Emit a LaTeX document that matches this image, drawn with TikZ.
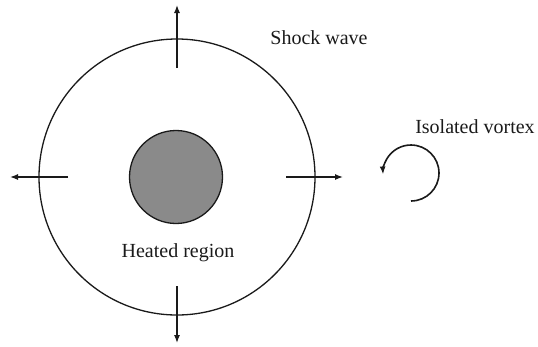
\documentclass[tikz,border=0pt]{standalone}
\usepackage{fontspec}
\setmainfont{Liberation Serif}
\usepackage{xcolor}
\usetikzlibrary{arrows.meta,calc}
\definecolor{Ink}{HTML}{1A1A1A}
\definecolor{HeatGray}{HTML}{8A8A8A}

\begin{document}
\begin{tikzpicture}[
  x=1pt,
  y=-1pt,
  ring/.style={circle,draw=Ink,line width=1.3pt,inner sep=0pt},
  burst/.style={draw=Ink,line width=1.3pt,-{Latex[length=8pt,width=6pt]}},
  swirl/.style={draw=Ink,line width=1.6pt,-{Latex[length=8pt,width=6pt]}},
  caption/.style={font=\fontsize{20}{24}\selectfont,text=Ink,inner sep=0pt}
]
  \useasboundingbox (0,0) rectangle (538,346);

  % Shock front and heated core
  \node[ring,minimum size=276pt] (shock) at (177,177) {};
  \node[ring,fill=HeatGray,minimum size=93pt] (heated) at (176,177) {};

  % Outward arrows across the front
  \foreach \ang/\len in {0/166,90/166,180/167,270/172} {
    \coordinate (in\ang) at ($(177,177)+(\ang:109)$);
    \coordinate (out\ang) at ($(177,177)+(\ang:\len)$);
    \draw[burst] (in\ang) -- (out\ang);
  }

  % Vortex
  \coordinate (vortexstart) at (411,201);
  \draw[swirl] (vortexstart) arc[start angle=90,end angle=-183,radius=28];

  % Labels
  \node[caption] (shocklabel) at (319,38) {Shock wave};
  \node[caption] (vortexlabel) at (475,127) {Isolated vortex};
  \node[caption] (heatedlabel) at (178,253) {Heated region};
\end{tikzpicture}
\end{document}
